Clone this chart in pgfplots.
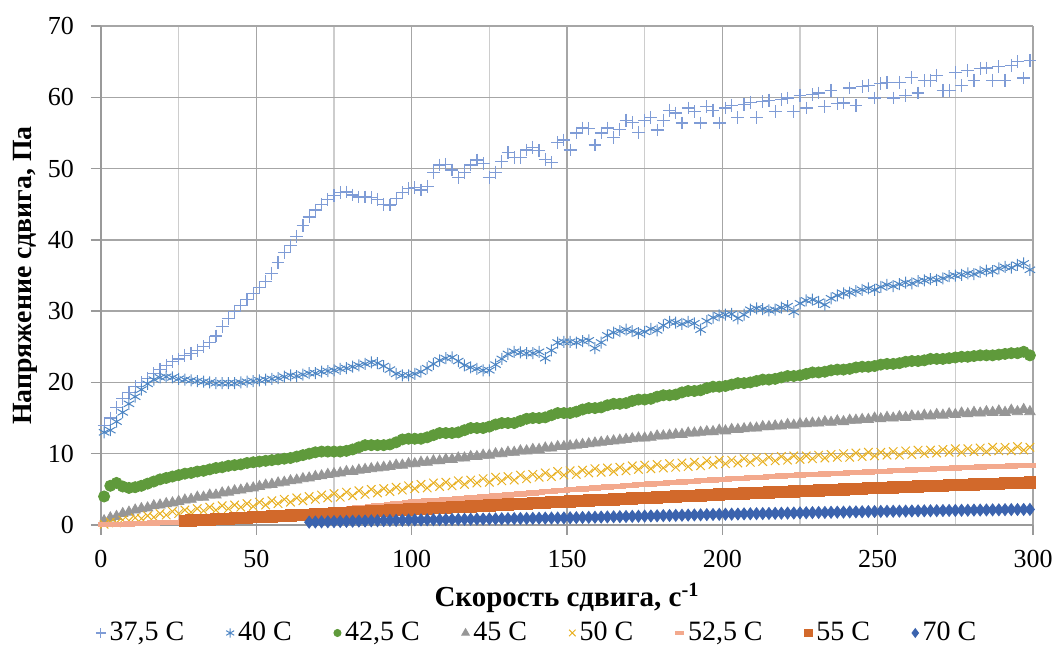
\documentclass[border=0pt]{standalone}
\usepackage{fontspec}
\setmainfont{Liberation Serif}
\usepackage{pgfplots}
\usepackage{pgfplotstable}
\pgfplotsset{compat=1.18}
\definecolor{cA}{HTML}{7F9CD6}
\definecolor{cB}{HTML}{4E86C4}
\definecolor{cC}{HTML}{5F9A3B}
\definecolor{cD}{HTML}{969696}
\definecolor{cE}{HTML}{E8B020}
\definecolor{cF}{HTML}{F3A98D}
\definecolor{cG}{HTML}{D2692B}
\definecolor{cH}{HTML}{3B63AE}
\definecolor{gmaj}{HTML}{A6A6A6}
\definecolor{gmin}{HTML}{CDCDCD}
\definecolor{axc}{HTML}{9A9A9A}
\pgfplotstableread{
x a b c d e f g h
1 14 13 4 0.6 0.1 0.02 nan nan
3 15 13.3 5.5 1.0 0.4 0.05 nan nan
5 16.5 14.5 5.9 1.2 0.3 0.08 nan nan
7 17.8 15.8 5.4 1.6 0.7 0.11 nan nan
9 18.6 17 5.2 1.8 0.6 0.14 nan nan
11 19.4 18 5.3 2.1 1.0 0.18 nan nan
13 20 19 5.5 2.3 0.9 0.21 nan nan
15 20.6 19.8 5.8 2.4 1.3 0.24 nan nan
17 21.2 20.4 6.1 2.7 1.1 0.27 nan nan
19 21.8 20.7 6.4 2.8 1.6 0.30 nan nan
21 22.4 20.8 6.6 3.0 1.4 0.34 nan nan
23 22.9 20.7 6.8 3.1 1.9 0.37 nan nan
25 23.3 20.5 7 3.3 1.6 0.40 nan nan
27 23.8 20.4 7.2 3.5 2.1 0.45 0.60 nan
29 24.1 20.3 7.3 3.6 1.8 0.50 0.64 nan
31 24.5 20.2 7.5 3.9 2.3 0.54 0.69 nan
33 25 20.1 7.6 3.9 2.0 0.59 0.73 nan
35 25.6 20 7.8 4.2 2.5 0.64 0.77 nan
37 26.5 19.9 8 4.2 2.1 0.69 0.82 nan
39 27.8 19.9 8.1 4.5 2.7 0.74 0.86 nan
41 29 19.9 8.3 4.6 2.3 0.78 0.90 nan
43 30 19.9 8.4 4.8 2.8 0.83 0.95 nan
45 30.8 20 8.5 4.9 2.5 0.88 0.99 nan
47 31.6 20.1 8.7 5.1 3.0 0.93 1.03 nan
49 32.5 20.2 8.8 5.2 2.6 0.98 1.08 nan
51 33.3 20.3 8.9 5.4 3.2 1.04 1.12 nan
53 34.2 20.4 9 5.6 2.8 1.12 1.17 nan
55 35.3 20.5 9.1 5.7 3.4 1.20 1.21 nan
57 36.8 20.6 9.2 5.9 3.0 1.28 1.25 nan
59 38.2 20.8 9.3 6.0 3.6 1.36 1.30 nan
61 39.2 21 9.4 6.2 3.2 1.44 1.34 nan
63 40.5 20.9 9.6 6.3 3.8 1.52 1.39 nan
65 42 21.1 9.8 6.5 3.4 1.60 1.43 nan
67 43.2 21.3 10 6.6 4.0 1.68 1.47 0.40
69 44.2 21.3 10.2 6.8 3.6 1.76 1.52 0.42
71 45 21.5 10.3 6.9 4.2 1.84 1.56 0.44
73 45.7 21.6 10.3 7.1 3.8 1.92 1.61 0.45
75 46.2 21.7 10.3 7.2 4.4 2.00 1.65 0.47
77 46.6 21.9 10.3 7.3 3.9 2.10 1.69 0.49
79 46.7 22 10.4 7.5 4.6 2.19 1.74 0.51
81 46.3 22.2 10.6 7.5 4.1 2.29 1.78 0.53
83 46 22.4 10.9 7.7 4.8 2.38 1.83 0.55
85 46 22.6 11.2 7.8 4.3 2.48 1.87 0.56
87 45.9 22.8 11.2 7.9 5.0 2.58 1.91 0.58
89 45.7 22.7 11.2 8.0 4.5 2.67 1.96 0.60
91 45 22.3 11.2 8.1 5.1 2.77 2.00 0.62
93 44.9 21.8 11.3 8.2 4.7 2.86 2.05 0.64
95 45.8 21.2 11.6 8.4 5.3 2.96 2.09 0.65
97 46.6 21 12 8.4 4.9 3.06 2.13 0.67
99 47.2 21 12.1 8.6 5.5 3.15 2.18 0.69
101 47.3 21.2 12.1 8.6 5.1 3.23 2.22 0.71
103 47 21.5 12.1 8.8 5.7 3.30 2.27 0.72
105 47.5 22 12.3 8.8 5.2 3.36 2.31 0.73
107 49.5 22.6 12.6 9.0 5.9 3.42 2.35 0.74
109 50.5 23.1 12.9 9.0 5.4 3.49 2.40 0.75
111 50.6 23.4 12.9 9.2 6.0 3.55 2.44 0.77
113 49.8 23.5 12.9 9.2 5.5 3.62 2.49 0.78
115 48.7 23 13 9.4 6.2 3.68 2.53 0.79
117 49.5 22.4 13.3 9.4 5.7 3.74 2.57 0.80
119 50.5 22.1 13.6 9.6 6.3 3.81 2.62 0.81
121 51.2 21.9 13.6 9.6 5.9 3.87 2.66 0.83
123 50.7 21.7 13.6 9.8 6.5 3.94 2.71 0.84
125 48.8 21.7 13.8 9.8 6.0 4.00 2.75 0.85
127 49.5 22.5 14.1 10.0 6.7 4.07 2.79 0.86
129 51 23.3 14.3 10.0 6.2 4.14 2.84 0.87
131 52.2 24 14.3 10.2 6.8 4.22 2.88 0.89
133 51.5 24.3 14.3 10.2 6.3 4.29 2.93 0.90
135 51.5 24.2 14.6 10.4 7.0 4.36 2.97 0.91
137 52.6 24.1 14.9 10.4 6.5 4.43 3.01 0.92
139 53 24.1 15 10.6 7.1 4.50 3.06 0.93
141 52.5 24.3 15 10.6 6.7 4.58 3.10 0.95
143 51.3 23.4 15.1 10.8 7.3 4.65 3.15 0.96
145 50.8 24.5 15.4 10.8 6.8 4.72 3.19 0.97
147 53.7 25.6 15.7 11.0 7.5 4.79 3.23 0.98
149 54 25.7 15.7 11.0 7.0 4.86 3.28 0.99
151 52.6 25.7 15.7 11.1 7.6 4.93 3.32 1.01
153 55 25.6 15.9 11.2 7.1 5.00 3.36 1.03
155 55.7 25.8 16.2 11.3 7.7 5.06 3.40 1.05
157 55.6 25.9 16.4 11.4 7.3 5.12 3.44 1.07
159 53.3 24.8 16.4 11.5 7.9 5.19 3.48 1.09
161 55 25.6 16.5 11.6 7.4 5.25 3.52 1.11
163 55.7 26.6 16.8 11.7 8.0 5.32 3.56 1.13
165 54.4 27 17 11.8 7.5 5.38 3.60 1.15
167 55.5 27.2 17 11.9 8.1 5.44 3.64 1.17
169 56.8 27.4 17.1 12.0 7.6 5.51 3.68 1.19
171 56.5 27.2 17.4 12.1 8.3 5.57 3.72 1.21
173 55.1 26.9 17.6 12.2 7.8 5.64 3.76 1.23
175 56.8 27.1 17.6 12.2 8.4 5.70 3.80 1.25
177 57.2 27.5 17.7 12.3 7.9 5.76 3.84 1.27
179 55.4 27.3 18 12.5 8.5 5.81 3.88 1.29
181 56.8 28 18.2 12.5 8.0 5.87 3.92 1.31
183 58.2 28.5 18.2 12.6 8.6 5.92 3.96 1.33
185 57.8 28.4 18.3 12.7 8.1 5.98 4.00 1.35
187 56.4 28.2 18.6 12.7 8.7 6.04 4.04 1.37
189 58.5 28.5 18.8 12.9 8.2 6.09 4.08 1.39
191 58 28.3 18.8 12.9 8.8 6.15 4.12 1.41
193 56.4 27.4 18.9 13.0 8.3 6.20 4.16 1.43
195 58.7 28.6 19.2 13.1 9.0 6.26 4.20 1.45
197 58.2 29.1 19.4 13.1 8.5 6.32 4.24 1.47
199 56.4 29.4 19.4 13.3 9.1 6.37 4.28 1.49
201 58.5 29.5 19.5 13.2 8.6 6.42 4.32 1.51
203 58.9 29.6 19.7 13.4 9.1 6.47 4.35 1.52
205 57.2 29 19.9 13.4 8.7 6.52 4.39 1.54
207 59 29.5 19.9 13.5 9.3 6.57 4.43 1.56
209 59.3 30.2 20 13.6 8.8 6.62 4.46 1.57
211 57.2 30.4 20.2 13.6 9.4 6.66 4.50 1.59
213 59.4 30.3 20.4 13.8 8.9 6.71 4.53 1.60
215 59.6 30.1 20.4 13.8 9.5 6.76 4.57 1.62
217 58 30.2 20.5 13.9 9.0 6.81 4.61 1.64
219 59.7 30.5 20.7 13.9 9.6 6.86 4.64 1.65
221 59.9 30.7 20.9 14.1 9.1 6.90 4.68 1.67
223 58 29.9 20.9 14.0 9.7 6.95 4.71 1.68
225 60.3 31.1 21 14.2 9.2 7.00 4.75 1.70
227 58.5 31.5 21.2 14.2 9.7 7.04 4.79 1.72
229 60.4 31.6 21.4 14.3 9.3 7.08 4.82 1.73
231 60.6 31.3 21.4 14.3 9.8 7.12 4.86 1.75
233 58.7 30.9 21.5 14.5 9.4 7.16 4.89 1.76
235 61 31.8 21.7 14.4 9.9 7.20 4.93 1.78
237 59.1 32.2 21.8 14.6 9.5 7.24 4.97 1.80
239 59.2 32.5 21.8 14.5 10.0 7.28 5.00 1.81
241 61.3 32.6 21.9 14.7 9.5 7.32 5.04 1.83
243 58.9 32.8 22.1 14.7 10.1 7.36 5.07 1.84
245 61.5 33 22.2 14.8 9.6 7.40 5.11 1.86
247 61.7 33.2 22.2 14.8 10.2 7.44 5.15 1.88
249 59.9 33 22.3 15.0 9.7 7.48 5.18 1.89
251 61.9 33.4 22.5 14.9 10.2 7.52 5.22 1.91
253 62.1 33.7 22.6 15.1 9.8 7.56 5.25 1.92
255 59.9 33.5 22.6 15.0 10.3 7.60 5.28 1.93
257 62.1 33.8 22.7 15.2 9.8 7.64 5.31 1.94
259 60.3 34 22.9 15.1 10.4 7.68 5.34 1.95
261 62.8 33.9 23 15.3 9.9 7.72 5.38 1.97
263 60.6 34.2 23 15.2 10.5 7.76 5.41 1.98
265 62.3 34.3 23.1 15.4 10.0 7.80 5.44 1.99
267 62.4 34.5 23.3 15.3 10.5 7.84 5.47 2.00
269 63.1 34.4 23.3 15.5 10.1 7.88 5.50 2.01
271 61 34.6 23.3 15.4 10.6 7.92 5.54 2.03
273 61 34.9 23.4 15.6 10.2 7.96 5.57 2.04
275 63.5 35 23.5 15.5 10.7 8.00 5.60 2.05
277 61.7 35.1 23.6 15.7 10.2 8.03 5.63 2.06
279 63.8 35.3 23.6 15.6 10.7 8.06 5.66 2.07
281 62.4 35.2 23.7 15.8 10.3 8.10 5.70 2.09
283 64 35.5 23.8 15.7 10.8 8.13 5.73 2.10
285 64.1 35.7 23.8 15.9 10.3 8.16 5.76 2.11
287 62.4 35.6 23.8 15.8 10.9 8.19 5.79 2.12
289 64.3 36 23.9 16.0 10.4 8.22 5.82 2.13
291 62.4 36.2 24 15.8 10.9 8.26 5.86 2.15
293 64.5 36.1 24.1 16.1 10.4 8.29 5.89 2.16
295 65 36.5 24.1 15.9 11.0 8.32 5.92 2.17
297 62.7 36.7 24.3 16.2 10.5 8.35 5.95 2.18
299 65.2 35.8 23.8 15.9 10.9 8.38 5.98 2.19
}\data
\begin{document}
\begin{tikzpicture}
\useasboundingbox (-50.5pt,-63pt) rectangle (478.5pt,262.5pt);
\begin{axis}[
  at={(0,0)}, anchor=south west,
  scale only axis, width=466pt, height=249.5pt,
  xmin=0, xmax=300, ymin=0, ymax=70,
  xtick={0,50,...,300}, minor xtick={25,75,...,275},
  ytick={0,10,...,70},
  grid=both,
  major grid style={draw=gmaj, line width=0.7pt},
  minor grid style={draw=gmin, line width=0.7pt},
  axis x line*=bottom, axis y line*=left,
  axis line style={draw=axc, line width=0.8pt},
  tick align=outside, major tick length=5pt, minor tick length=0pt,
  tick style={draw=axc, line width=0.7pt},
  ticklabel style={font=\fontsize{13}{15}\selectfont},
  yticklabel style={xshift=-5pt},
  xticklabel style={yshift=-4pt},
  /pgf/number format/assume math mode=true,
  xlabel={Скорость сдвига, с\textsuperscript{-1}},
  ylabel={Напряжение сдвига, Па},
  xlabel style={font=\bfseries\fontsize{14.5}{17}\selectfont, at={(axis description cs:0.5,-0.1643)}, anchor=base},
  ylabel style={font=\bfseries\fontsize{13.9}{16}\selectfont, at={(axis description cs:-0.0815,0.5)}, anchor=center},
  legend columns=8,
  legend style={at={(axis description cs:0.469,-0.2164)}, anchor=center, draw=none, fill=none,
    font=\fontsize{14}{16}\selectfont,
    /tikz/every even column/.append style={column sep=19pt}},
]
\addplot[only marks, mark=+, mark size=3.2pt, draw=cA, line width=0.6pt, legend image post style={mark size=2.4pt}] table[x=x,y=a]{\data};
\addlegendentry{37,5 C}
\addplot[only marks, mark=asterisk, mark size=3pt, draw=cB, line width=0.5pt, legend image post style={mark size=2.3pt}] table[x=x,y=b]{\data};
\addlegendentry{40 C}
\addplot[only marks, mark=*, mark size=2.8pt, color=cC, legend image post style={mark size=1.8pt}] table[x=x,y=c]{\data};
\addlegendentry{42,5 C}
\addplot[only marks, mark=triangle*, mark size=3pt, color=cD, legend image post style={mark size=2.2pt}] table[x=x,y=d]{\data};
\addlegendentry{45 C}
\addplot[only marks, mark=x, mark size=3pt, draw=cE, line width=0.5pt, legend image post style={mark size=2.3pt}] table[x=x,y=e]{\data};
\addlegendentry{50 C}
\addplot[only marks, mark=-, mark size=3.2pt, draw=cF, line width=2.6pt, legend image post style={mark size=2.2pt, line width=1.6pt}] table[x=x,y=f]{\data};
\addlegendentry{52,5 C}
\addplot[only marks, mark=square*, mark size=2.8pt, color=cG, legend image post style={mark size=1.9pt}] table[x=x,y=g]{\data};
\addlegendentry{55 C}
\addplot[only marks, mark=diamond*, mark size=3pt, color=cH, legend image post style={mark size=2.2pt}] table[x=x,y=h]{\data};
\addlegendentry{70 C}
\end{axis}
\end{tikzpicture}
\end{document}
